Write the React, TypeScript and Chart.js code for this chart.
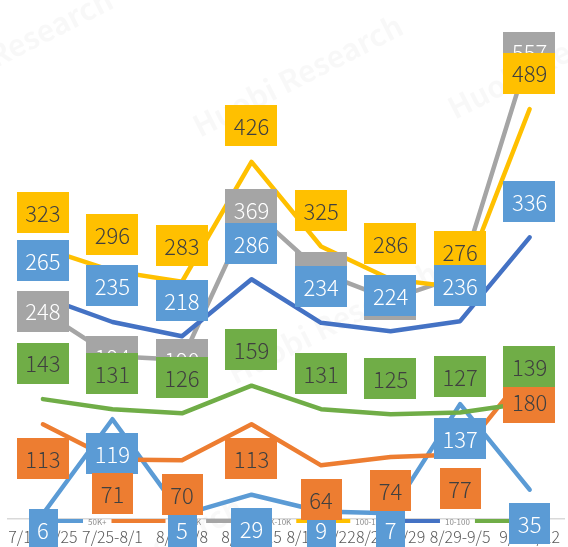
import React, { useEffect, useRef } from "react";
import { Chart, registerables } from "chart.js";

Chart.register(...registerables);

// ---- data ----
const categories = [
  "7/18-7/25",
  "7/25-8/1",
  "8/1-8/8",
  "8/8-8/15",
  "8/15-8/22",
  "8/22-8/29",
  "8/29-9/5",
  "9/5-9/12",
];
const seriesNames = ["50K+", "10K-50K", "1K-10K", "100-1K", "10-100", "1-10"];
const s50kPlus = [6, 119, 5, 29, 9, 7, 137, 35];
const s10kTo50k = [113, 71, 70, 113, 64, 74, 77, 180];
const s1kTo10k = [248, 194, 190, 369, 294, 262, 290, 557];
const s100To1k = [323, 296, 283, 426, 325, 286, 276, 489];
const s10To100 = [265, 235, 218, 286, 234, 224, 236, 336];
const s1To10 = [143, 131, 126, 159, 131, 125, 127, 139];
const watermarkText = "Huobi Research";

// ---- styles ----
const lineColors = ["#5B9BD5", "#ED7D31", "#A5A5A5", "#FFC000", "#4472C4", "#70AD47"];
const labelStyles = [
  { fill: "#5B9BD5", text: "#FFFFFF", pos: "below" },
  { fill: "#ED7D31", text: "#404040", pos: "below" },
  { fill: "#A5A5A5", text: "#FFFFFF", pos: "center" },
  { fill: "#FFC000", text: "#404040", pos: "above" },
  { fill: "#5B9BD5", text: "#FFFFFF", pos: "above" },
  { fill: "#70AD47", text: "#404040", pos: "above" },
];
const FONT = '"Noto Sans CJK SC", "Noto Sans", sans-serif';

const boxLabelPlugin = {
  id: "boxLabels",
  beforeDatasetsDraw(chart: any) {
    const ctx = chart.ctx;
    ctx.save();
    ctx.fillStyle = "rgba(0,0,0,0.028)";
    ctx.font = `bold 30px ${FONT}`;
    ctx.textAlign = "left";
    ctx.textBaseline = "alphabetic";
    const spots = [
      [-90, 112],
      [200, 138],
      [235, 385],
      [455, 120],
      [40, 620],
    ];
    for (const [x, y] of spots) {
      ctx.save();
      ctx.translate(x, y);
      ctx.rotate((-27 * Math.PI) / 180);
      ctx.fillText(watermarkText, 0, 0);
      ctx.restore();
    }
    ctx.restore();
  },
  afterDatasetsDraw(chart: any) {
    const ctx = chart.ctx;
    ctx.save();
    // legend (drawn over the plot bottom, under the data labels)
    ctx.font = `8px ${FONT}`;
    ctx.textBaseline = "middle";
    ctx.textAlign = "left";
    let x = 29;
    const ly = 521;
    chart.data.datasets.forEach((ds: any) => {
      ctx.strokeStyle = ds.borderColor;
      ctx.lineWidth = 4;
      ctx.lineCap = "butt";
      ctx.beginPath();
      ctx.moveTo(x, ly);
      ctx.lineTo(x + 54, ly);
      ctx.stroke();
      x += 59;
      ctx.fillStyle = "#8C8C8C";
      ctx.fillText(ds.label, x, ly + 0.5);
      x += ctx.measureText(ds.label).width + 5;
    });

    // data labels
    ctx.font = `300 22px ${FONT}`;
    ctx.textAlign = "center";
    ctx.textBaseline = "middle";
    chart.data.datasets.forEach((ds: any, di: number) => {
      const meta = chart.getDatasetMeta(di);
      const st = labelStyles[di];
      meta.data.forEach((pt: any, i: number) => {
        const text = String(ds.data[i]);
        const w = ctx.measureText(text).width + 17;
        const h = 41;
        let cy = pt.y;
        if (st.pos === "above") cy = pt.y - 36;
        if (st.pos === "below") cy = pt.y + 34;
        cy = Math.min(cy, 529.5);
        ctx.fillStyle = st.fill;
        ctx.fillRect(Math.round(pt.x - w / 2), Math.round(cy - h / 2), Math.round(w), h);
        ctx.fillStyle = st.text;
        ctx.fillText(text, pt.x, cy + 1);
      });
    });
    ctx.restore();
  },
};

export default function App() {
  const ref = useRef<HTMLCanvasElement | null>(null);

  useEffect(() => {
    document.body.style.margin = "0";
    document.body.style.overflow = "hidden";
    const canvas = ref.current;
    if (!canvas) return;
    const allSeries = [s50kPlus, s10kTo50k, s1kTo10k, s100To1k, s10To100, s1To10];
    const chart = new Chart(canvas, {
      type: "line",
      data: {
        labels: categories,
        datasets: allSeries.map((d, i) => ({
          label: seriesNames[i],
          data: d,
          borderColor: lineColors[i],
          backgroundColor: lineColors[i],
          borderWidth: 4.5,
          borderCapStyle: "round",
          borderJoinStyle: "round",
          pointRadius: 0,
          tension: 0,
          fill: false,
          order: allSeries.length - i,
        })),
      },
      options: {
        responsive: false,
        animation: false,
        layout: { padding: { top: 16, left: 8, right: 0, bottom: 0 } },
        plugins: {
          legend: { display: false },
          tooltip: { enabled: false },
        },
        scales: {
          x: {
            offset: true,
            grid: { display: false, drawTicks: false },
            border: { display: true, color: "#D9D9D9", width: 1.5 },
            ticks: {
              autoSkip: false,
              maxRotation: 0,
              minRotation: 0,
              padding: 8,
              color: "#595959",
              font: { family: FONT, size: 16, weight: "300" },
            },
            afterFit: (scale: any) => {
              scale.height = 28;
            },
          },
          y: {
            display: false,
            min: 0,
            max: 600,
          },
        },
      },
      plugins: [boxLabelPlugin],
    } as any);
    return () => chart.destroy();
  }, []);

  return (
    <div style={{ width: 568, height: 547 }}>
      <canvas ref={ref} width={568} height={547} style={{ display: "block" }} />
    </div>
  );
}
